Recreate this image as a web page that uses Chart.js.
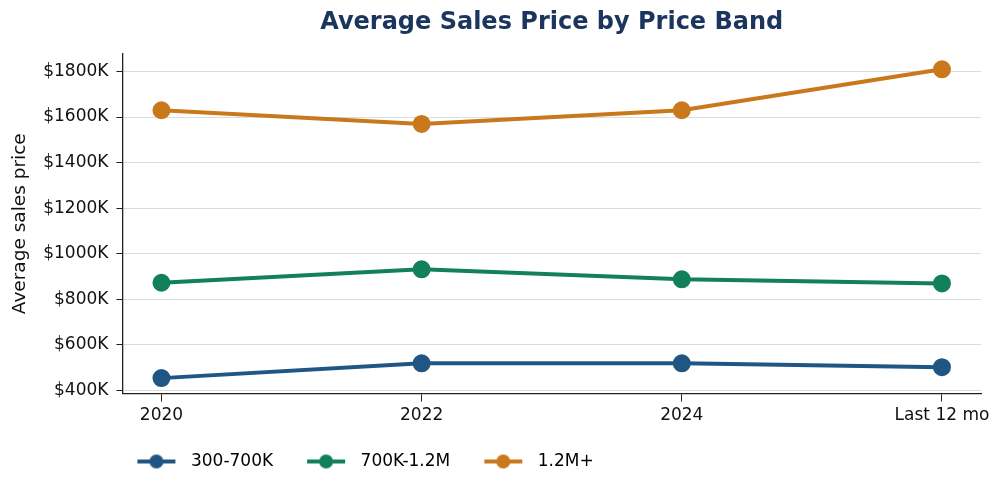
<!DOCTYPE html>
<html>
<head>
<meta charset="utf-8">
<script src="https://cdn.jsdelivr.net/npm/chart.js@4.4.1/dist/chart.umd.min.js"></script>
<style>
  html, body { margin: 0; padding: 0; background: #fff; }
  #wrap { width: 1002px; height: 486px; }
</style>
</head>
<body>
<div id="wrap"><canvas id="priceChart"></canvas></div>
<script>
// categories and values (thousands of dollars)
const periods = ['2020', '2022', '2024', 'Last 12 mo'];
const bandLow = [453, 518, 518, 501];
const bandMid = [872, 931, 887, 869];
const bandHigh = [1630, 1570, 1630, 1810];
const yTicks = [400, 600, 800, 1000, 1200, 1400, 1600, 1800];

const seriesNames = ['300-700K', '700K-1.2M', '1.2M+'];
const seriesColors = ['#1f5683', '#13805c', '#c9791b'];

// legend marker: short line with a dot in the middle
// (transparent margin on the left keeps the gap between legend entries)
function legendMarker(color) {
    const c = document.createElement('canvas');
    c.width = 56;
    c.height = 16;
    const g = c.getContext('2d');
    g.strokeStyle = color;
    g.lineWidth = 4;
    g.beginPath();
    g.moveTo(11, 8);
    g.lineTo(49, 8);
    g.stroke();
    g.fillStyle = color;
    g.beginPath();
    g.arc(30, 8, 7, 0, Math.PI * 2);
    g.fill();
    return c;
}

function makeDataset(label, values, color) {
    return {
        label: label,
        data: values.map((v, i) => ({ x: i, y: v })),
        borderColor: color,
        backgroundColor: color,
        pointBackgroundColor: color,
        pointBorderColor: color,
        borderWidth: 4,
        pointRadius: 7,
        pointHoverRadius: 8,
        tension: 0,
        fill: false,
        marker: legendMarker(color)
    };
}

// nudge the legend so it starts just right of the y axis, like the original
const legendShift = {
    id: 'legendShift',
    afterLayout(chart) {
        if (chart.legend) {
            chart.legend.left -= 19;
            chart.legend.right -= 19;
        }
    }
};

function createPriceChart() {
    const ctx = document.getElementById('priceChart').getContext('2d');
    Chart.defaults.font.family = '"DejaVu Sans", sans-serif';
    Chart.defaults.color = '#111';

    new Chart(ctx, {
        type: 'line',
        data: {
            datasets: [
                makeDataset(seriesNames[0], bandLow, seriesColors[0]),
                makeDataset(seriesNames[1], bandMid, seriesColors[1]),
                makeDataset(seriesNames[2], bandHigh, seriesColors[2])
            ]
        },
        plugins: [legendShift],
        options: {
            responsive: true,
            maintainAspectRatio: false,
            animation: false,
            layout: { padding: { left: 9, right: 21, top: 8, bottom: 6 } },
            scales: {
                x: {
                    type: 'linear',
                    min: -0.15,
                    max: 3.15,
                    afterBuildTicks: scale => {
                        scale.ticks = periods.map((_, i) => ({ value: i }));
                    },
                    ticks: {
                        font: { size: 17 },
                        color: '#111',
                        padding: 4,
                        maxRotation: 0,
                        callback: value => periods[value]
                    },
                    grid: {
                        drawOnChartArea: false,
                        tickLength: 8,
                        tickColor: '#222'
                    },
                    border: { color: '#222', width: 1.3 }
                },
                y: {
                    min: 385,
                    max: 1878,
                    afterBuildTicks: scale => {
                        scale.ticks = yTicks.map(v => ({ value: v }));
                    },
                    ticks: {
                        font: { size: 17 },
                        color: '#111',
                        padding: 8,
                        callback: value => '$' + value + 'K'
                    },
                    grid: {
                        color: '#dcdcdc',
                        lineWidth: 1,
                        tickLength: 6,
                        tickColor: '#222'
                    },
                    border: { color: '#222', width: 1.3 },
                    title: {
                        display: true,
                        text: 'Average sales price',
                        font: { size: 18.5 },
                        color: '#111',
                        padding: { top: 0, bottom: 4 }
                    }
                }
            },
            plugins: {
                title: {
                    display: true,
                    text: 'Average Sales Price by Price Band',
                    fullSize: false,
                    color: '#1c355e',
                    font: { size: 24, weight: 'bold' },
                    padding: { top: 0, bottom: 17 }
                },
                legend: {
                    position: 'bottom',
                    align: 'start',
                    fullSize: false,
                    labels: {
                        usePointStyle: true,
                        pointStyleWidth: 56,
                        padding: 23,
                        font: { size: 17 },
                        color: '#111',
                        generateLabels: chart => chart.data.datasets.map((ds, i) => ({
                            text: ds.label,
                            pointStyle: ds.marker,
                            fillStyle: ds.borderColor,
                            strokeStyle: ds.borderColor,
                            lineWidth: 0,
                            hidden: false,
                            datasetIndex: i
                        }))
                    }
                },
                tooltip: {
                    callbacks: {
                        label: item => `${item.dataset.label}: $${item.raw.y}K`
                    }
                }
            }
        }
    });
}

window.onload = function() {
    createPriceChart();
};
</script>
</body>
</html>
